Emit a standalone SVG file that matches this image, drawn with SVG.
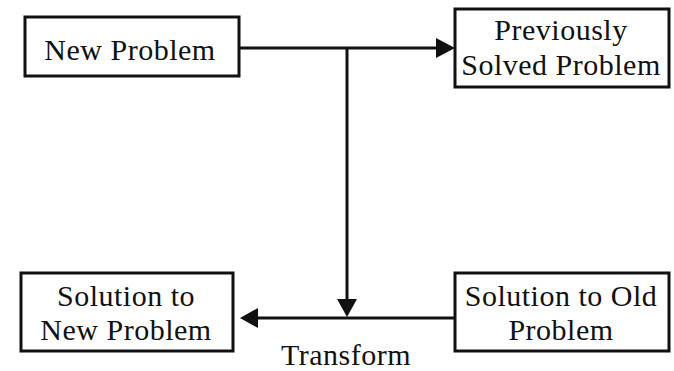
<svg xmlns="http://www.w3.org/2000/svg" width="674" height="371" viewBox="0 0 674 371">
<defs>
<style>
.box{fill:#fff;stroke:#111;stroke-width:3}
.t{font-family:"Liberation Serif",serif;font-size:30px;letter-spacing:0.5px;fill:#111;text-anchor:middle}
.c{stroke:#111;stroke-width:3;fill:none}
.h{fill:#111}
</style>
</defs>
<rect width="674" height="371" fill="#fff"/>
<g id="connectors">
<path class="c" d="M239,48 H437"/>
<path class="h" d="M436,38 L455,48 L436,58 Z"/>
<path class="c" d="M347,48 V300"/>
<path class="h" d="M337,299 L347,317 L357,299 Z"/>
<path class="c" d="M455,318 H257"/>
<path class="h" d="M258,308 L240,318 L258,328 Z"/>
<text class="t" x="346" y="365">Transform</text>
</g>
<g id="new-problem">
<rect class="box" x="25" y="17" width="214" height="59"/>
<text class="t" x="130" y="60">New Problem</text>
</g>
<g id="previously-solved">
<rect class="box" x="455" y="9" width="214" height="78"/>
<text class="t" x="561" y="40">Previously</text>
<text class="t" x="561" y="75">Solved Problem</text>
</g>
<g id="solution-new">
<rect class="box" x="21" y="273" width="212" height="78"/>
<text class="t" x="126" y="306">Solution to</text>
<text class="t" x="126" y="340">New Problem</text>
</g>
<g id="solution-old">
<rect class="box" x="455" y="273" width="214" height="78"/>
<text class="t" x="561" y="306">Solution to Old</text>
<text class="t" x="561" y="340">Problem</text>
</g>
</svg>
